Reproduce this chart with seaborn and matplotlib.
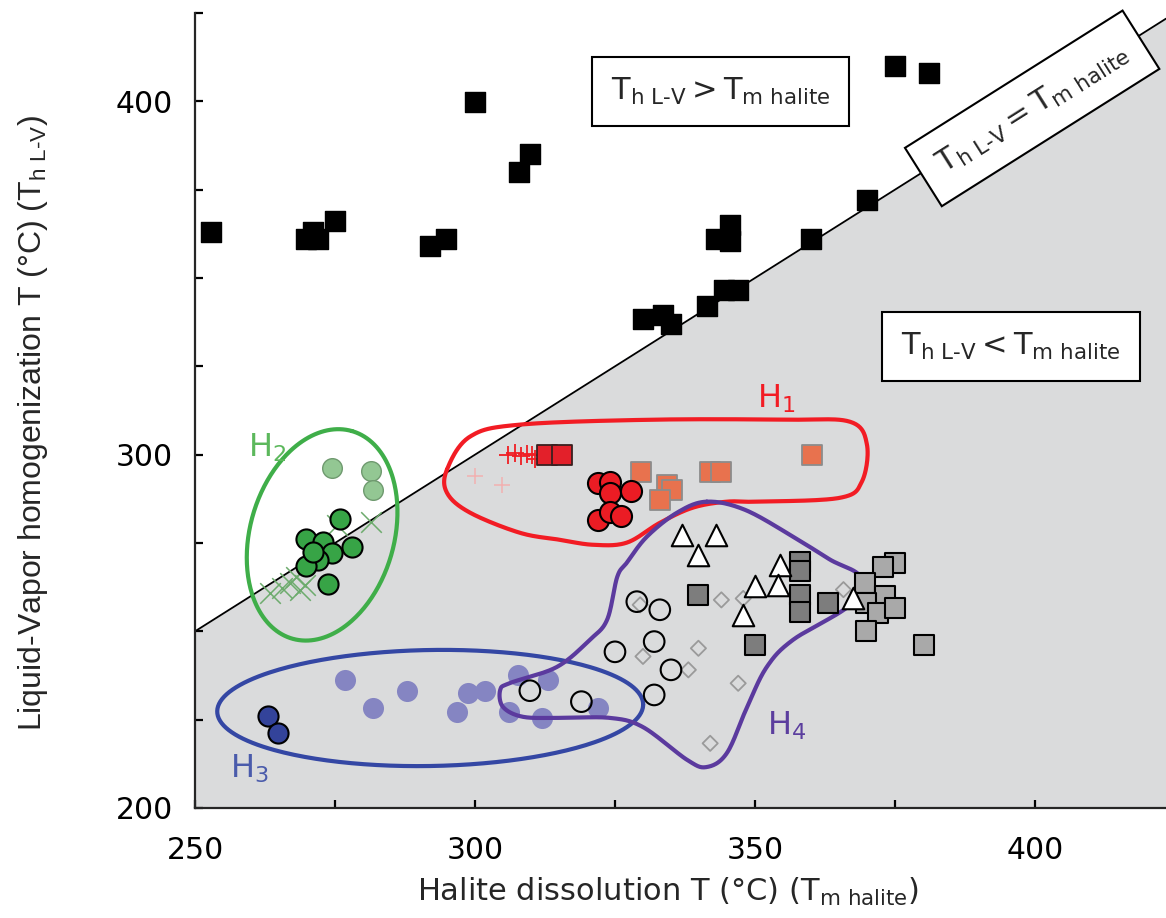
import numpy as np
import pandas as pd
import matplotlib
matplotlib.use("Agg")
import matplotlib.pyplot as plt
import seaborn as sns

# axis ranges (deg C)
x_range = (250, 423.4)
y_range = (200, 425)

# ---- inclusion data: x = T_m halite, y = T_h L-V ----
# T_h > T_m (black squares)
blk_x = [252.8, 269.9, 272.0, 271.0, 275.0, 292.0, 294.9, 300.0, 307.9, 309.9,
         343.0, 345.5, 345.5, 360.0, 370.0, 375.0, 381.0, 344.5, 347.0,
         330.0, 333.5, 335.0, 341.5]
blk_y = [363.1, 361.1, 361.1, 363.1, 366.1, 359.0, 361.1, 399.9, 379.9, 385.1,
         361.0, 365.0, 360.5, 361.0, 372.0, 410.0, 408.0, 346.5, 346.5,
         338.5, 339.5, 337.0, 342.0]

# H2 (green)
h2_dark_x = [275.9, 269.9, 272.9, 278.0, 274.4, 272.0, 269.9, 273.8, 271.0]
h2_dark_y = [281.7, 276.2, 275.4, 274.0, 272.1, 270.3, 268.4, 263.5, 272.5]
h2_light_x = [274.4, 281.5, 281.8]
h2_light_y = [296.2, 295.5, 290.1]
h2_cross_x = [263.4, 265.5, 267.0, 268.8, 269.7, 268.0, 275.3, 281.5]
h2_cross_y = [260.8, 262.3, 263.7, 261.8, 263.2, 265.5, 280.0, 281.0]

# H1 (red)
h1_plus_x = [305.9, 307.1, 308.3, 309.2, 310.1, 310.7]
h1_plus_y = [300.0, 300.5, 299.6, 300.2, 299.8, 298.8]
h1_faint_x = [300.0, 304.8]
h1_faint_y = [293.9, 291.5]
h1_sq_x = [312.8, 315.5]
h1_sq_y = [300.0, 300.0]
h1_orange_x = [329.7, 334.2, 335.1, 333.0, 342.0, 344.0, 360.1]
h1_orange_y = [295.2, 291.5, 290.1, 287.3, 295.2, 295.2, 300.0]
h1_circ_x = [322.0, 324.1, 324.1, 327.9, 322.0, 324.1, 326.1]
h1_circ_y = [292.0, 292.4, 289.1, 289.8, 281.6, 283.9, 282.5]

# H3 (blue)
h3_dark_x = [263.0, 264.9]
h3_dark_y = [226.1, 221.2]
h3_light_x = [276.8, 281.8, 287.8, 296.7, 298.8, 301.8, 306.0, 307.7, 313.1, 311.9, 322.0]
h3_light_y = [236.3, 228.2, 233.2, 227.3, 232.5, 233.2, 227.3, 237.7, 236.1, 225.4, 228.2]

# H4 and other
open_circ_x = [309.8, 319.0, 325.0, 332.0, 335.0, 332.0, 328.9, 333.0]
open_circ_y = [233.2, 230.1, 244.2, 247.1, 239.1, 232.0, 258.4, 256.1]
diam_x = [329.5, 344.0, 347.9, 339.9, 330.0, 338.1, 347.0, 342.0, 365.8]
diam_y = [257.5, 258.9, 259.3, 245.2, 242.9, 239.1, 235.3, 218.3, 261.8]
tri_x = [336.9, 343.1, 339.9, 354.5, 350.0, 354.2, 347.9, 367.5]
tri_y = [277.3, 277.3, 271.7, 268.8, 262.7, 263.2, 254.7, 259.3]
dgray_x = [339.9, 350.0, 358.0, 358.0, 358.0, 358.0, 363.1]
dgray_y = [260.3, 246.2, 269.5, 267.0, 260.3, 255.6, 257.9]
lgray_x = [375.0, 372.9, 369.6, 373.2, 369.9, 372.0, 375.0, 369.9, 380.1]
lgray_y = [269.3, 268.1, 263.6, 259.9, 258.0, 255.2, 256.5, 250.2, 246.2]

# outlines of the groups (vertices, smoothed when drawn)
h1_line_x = [295.0, 299.1, 308.0, 331.8, 355.7, 367.0, 370.0, 369.1, 365.2, 350.9,
             345.0, 338.9, 333.0, 327.1, 321.1, 315.2, 308.0, 299.1, 295.0]
h1_line_y = [295.8, 305.1, 308.5, 309.9, 309.9, 309.3, 302.8, 292.4, 287.8, 286.7,
             286.7, 285.0, 280.7, 275.1, 274.5, 275.9, 277.9, 283.6, 289.2]
h4_line_x = [341.4, 348.2, 356.8, 363.4, 368.8, 367.0, 356.8, 352.1, 348.6, 345.0,
             341.4, 337.9, 330.0, 324.1, 315.2, 308.6, 305.0, 304.5, 306.3, 314.6,
             320.5, 323.6, 325.4, 327.1, 330.7, 336.1]
h4_line_y = [286.7, 284.4, 276.8, 270.3, 265.4, 257.5, 247.6, 239.9, 228.6, 215.6,
             211.6, 213.6, 222.9, 225.5, 225.5, 225.8, 228.6, 233.4, 235.4, 239.9,
             247.6, 253.3, 265.4, 269.4, 276.8, 283.6]
# ellipses: centre (data), semi-axes (px), tilt (deg)
h2_ell = (272.7, 277.3, 108, 72, 74)
h3_ell = (292.0, 228.3, 213, 58, 1)

sns.set_style("ticks")
plt.rcParams["font.family"] = ["DejaVu Sans"]
plt.rcParams["mathtext.fontset"] = "custom"
plt.rcParams["mathtext.rm"] = "DejaVu Sans"

fig = plt.figure(figsize=(11.66, 9.18), dpi=100)
ax = fig.add_axes([195 / 1166, 1 - 808 / 918, 971 / 1166, 795 / 918])
ax.set_xlim(x_range)
ax.set_ylim(y_range)
pos = ax.get_position()
sx = pos.width * 1166 / (x_range[1] - x_range[0])
sy = pos.height * 918 / (y_range[1] - y_range[0])

# region T_h < T_m and the 1:1 line
ax.fill_between(x_range, x_range, y_range[0], color="#dadbdc", lw=0, zorder=0)
ax.plot(x_range, x_range, color="black", lw=1.3, zorder=1)


def smooth_closed(xs, ys, n=24):
    P = np.column_stack([xs, ys])
    N = len(P)
    t = np.linspace(0, 1, n, endpoint=False)[:, None]
    out = []
    for i in range(N):
        p0, p1, p2, p3 = P[i - 1], P[i], P[(i + 1) % N], P[(i + 2) % N]
        out.append(0.5 * (2 * p1 + (p2 - p0) * t + (2 * p0 - 5 * p1 + 4 * p2 - p3) * t ** 2
                          + (3 * p1 - p0 - 3 * p2 + p3) * t ** 3))
    out = np.vstack(out + [P[:1]])
    return out[:, 0], out[:, 1]


def ellipse(cx, cy, a, b, ang):
    t = np.linspace(0, 2 * np.pi, 300)
    r = np.radians(ang)
    dx = a * np.cos(t) * np.cos(r) - b * np.sin(t) * np.sin(r)
    dy = a * np.cos(t) * np.sin(r) + b * np.sin(t) * np.cos(r)
    return cx + dx / sx, cy + dy / sy


def pts(x, y, **kw):
    sns.scatterplot(x=x, y=y, ax=ax, legend=False, **kw)


# light / background markers
pts(h3_light_x, h3_light_y, marker="o", s=230, color="#8585c2", edgecolor="#8585c2", linewidth=0, zorder=2)
pts(h2_light_x, h2_light_y, marker="o", s=200, color="#93c793", edgecolor="#6f9a6f", linewidth=1, zorder=2)
pts(h2_cross_x, h2_cross_y, marker="x", s=220, color="#6dab6d", linewidth=1.1, zorder=2)
pts(h1_faint_x, h1_faint_y, marker="+", s=130, color="#f2b0b0", linewidth=1.1, zorder=2)
pts(diam_x, diam_y, marker="D", s=60, color="none", edgecolor="#9a9a9a", linewidth=1.3, zorder=2)

# group outlines
gx, gy = ellipse(*h2_ell)
ax.plot(gx, gy, color="#3fae49", lw=3, zorder=3)
bx, by = ellipse(*h3_ell)
ax.plot(bx, by, color="#3447a4", lw=3, zorder=3)
rx, ry = smooth_closed(h1_line_x, h1_line_y)
ax.plot(rx, ry, color="#f21c24", lw=3, zorder=3)
px_, py_ = smooth_closed(h4_line_x, h4_line_y)
ax.plot(px_, py_, color="#5b3a9e", lw=3, zorder=3)

# main markers
pts(blk_x, blk_y, marker="s", s=190, color="black", edgecolor="black", linewidth=1, zorder=4)
pts(h2_dark_x, h2_dark_y, marker="o", s=210, color="#37a446", edgecolor="black", linewidth=1.5, zorder=4)
pts(h1_plus_x, h1_plus_y, marker="+", s=150, color="#f01e24", linewidth=1.3, zorder=4)
pts(h1_sq_x, h1_sq_y, marker="s", s=210, color="#e3202a", edgecolor="#3a2020", linewidth=1.3, zorder=4)
pts(h1_orange_x, h1_orange_y, marker="s", s=210, color="#e8724e", edgecolor="#8c8c8c", linewidth=1.3, zorder=4)
pts(h1_circ_x, h1_circ_y, marker="o", s=230, color="#eb1c24", edgecolor="black", linewidth=1.5, zorder=4)
pts(h3_dark_x, h3_dark_y, marker="o", s=210, color="#33439a", edgecolor="black", linewidth=1.5, zorder=4)
pts(open_circ_x, open_circ_y, marker="o", s=220, color="none", edgecolor="black", linewidth=1.5, zorder=4)
pts(dgray_x, dgray_y, marker="s", s=220, color="#7d7d7d", edgecolor="black", linewidth=1.5, zorder=4)
pts(lgray_x, lgray_y, marker="s", s=220, color="#a9a9a9", edgecolor="black", linewidth=1.5, zorder=4)
pts(tri_x, tri_y, marker="^", s=240, color="white", edgecolor="black", linewidth=1.5, zorder=5)

# group labels
ax.text(259.5, 299.4, r"$\mathregular{H_2}$", color="#5cb85c", fontsize=23, ha="left", va="baseline")
ax.text(350.4, 313.3, r"$\mathregular{H_1}$", color="#f21c24", fontsize=23, ha="left", va="baseline")
ax.text(256.3, 208.5, r"$\mathregular{H_3}$", color="#4a5bab", fontsize=23, ha="left", va="baseline")
ax.text(352.1, 220.7, r"$\mathregular{H_4}$", color="#5b3e9e", fontsize=23, ha="left", va="baseline")

box = dict(boxstyle="square,pad=0.62", fc="white", ec="black", lw=1.5)
ax.text(343.9, 402.9, r"$\mathregular{T_{h\ L‐V} > T_{m\ halite}}$", fontsize=22,
        ha="center", va="center", bbox=box, zorder=6)
ax.text(395.7, 330.5, r"$\mathregular{T_{h\ L‐V} < T_{m\ halite}}$", fontsize=22,
        ha="center", va="center", bbox=box, zorder=6)
ang = np.degrees(np.arctan(sy / sx))
ax.text(399.5, 398.0, r"$\mathregular{T_{h\ L‐V} = T_{m\ halite}}$", fontsize=22,
        ha="center", va="center", rotation=ang, rotation_mode="anchor", bbox=box, zorder=6)

# axes
ax.spines[["top", "right"]].set_visible(False)
for s in ["left", "bottom"]:
    ax.spines[s].set_linewidth(1.6)
xt = np.arange(250, 425, 25)
yt = np.arange(200, 426, 25)
ax.set_xticks(xt)
ax.set_xticklabels([str(v) if v % 50 == 0 else "" for v in xt])
ax.set_yticks(yt)
ax.set_yticklabels([str(v) if v % 100 == 0 else "" for v in yt])
ax.tick_params(axis="both", direction="in", length=6, width=1.6, labelsize=21.5, colors="black")
ax.tick_params(axis="x", pad=20)
ax.tick_params(axis="y", pad=16)

ax.set_xlabel(r"Halite dissolution T (°C) (T$_\mathregular{m\ halite}$)", fontsize=22)
ax.xaxis.set_label_coords(0.487, -0.086)
ax.set_ylabel(r"Liquid-Vapor homogenization T (°C) (T$_\mathregular{h\ L‐V}$)", fontsize=23,
              family=["Liberation Sans", "DejaVu Sans"])
ax.yaxis.set_label_coords(-0.149, 0.484)

fig.savefig("out.png", dpi=100)
